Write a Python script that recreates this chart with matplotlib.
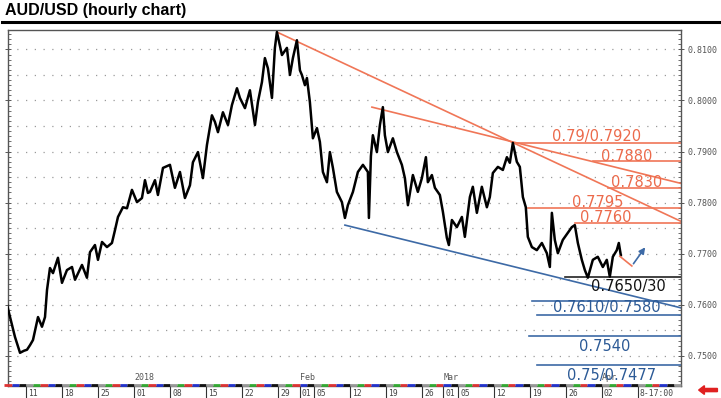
import matplotlib.pyplot as plt
from matplotlib.lines import Line2D
from matplotlib.patches import FancyArrow
import matplotlib.transforms as mtransforms
from matplotlib.ticker import MultipleLocator

# x axis = trading days counted from Mon 11 Dec 2017
days = [-2.64, -1.53, -0.83, -0.28, 0.14, 0.56, 0.97, 1.67, 2.22, 2.64, 2.92, 3.33, 3.75, 4.44,
        5.0, 5.69, 6.39, 6.81, 7.78, 8.47, 8.89, 9.58, 10.0, 10.56, 11.25, 11.94, 12.36, 12.78,
        13.47, 14.03, 14.72, 15.42, 16.11, 16.53, 16.94, 17.22, 17.92, 18.33, 19.03, 20.0, 20.69,
        21.39, 22.08, 22.78, 23.19, 23.89, 24.58, 25.14, 25.83, 26.25, 26.67, 27.36, 28.06, 28.61,
        29.31, 29.72, 30.42, 31.11, 31.81, 32.22, 32.78, 33.19, 33.61, 34.17, 34.58, 34.86, 35.56,
        36.25, 36.67, 37.08, 37.64, 38.06, 38.33, 38.75, 39.03, 39.44, 39.86, 40.42, 40.83, 41.25,
        41.81, 42.22, 42.64, 43.19, 43.89, 44.31, 44.72, 45.42, 46.11, 46.81, 47.5, 47.64, 47.92,
        48.19, 48.75, 49.17, 49.58, 49.86, 50.28, 50.97, 51.53, 52.22, 52.64, 53.06, 53.75, 54.44,
        55.0, 55.56, 55.83, 56.39, 56.81, 57.5, 57.92, 58.47, 58.75, 59.17, 59.86, 60.56, 60.97,
        61.67, 62.08, 62.64, 63.33, 64.03, 64.44, 64.86, 65.56, 66.25, 66.81, 67.22, 67.64, 68.19,
        68.61, 69.03, 69.44, 69.72, 70.28, 70.97, 71.67, 72.36, 72.78, 73.06, 73.47, 73.89, 74.58,
        75.28, 75.83, 76.25, 76.67, 77.22, 77.64, 78.06, 78.75, 79.44, 80.14, 80.69, 81.11, 81.53,
        82.08, 82.36, 82.64]
price = [0.7600, 0.7537, 0.7506, 0.7510, 0.7512, 0.7521, 0.7531, 0.7576, 0.7557, 0.7576, 0.7629,
         0.7672, 0.7662, 0.7692, 0.7643, 0.7668, 0.7674, 0.7649, 0.7678, 0.7653, 0.7703, 0.7717,
         0.7688, 0.7723, 0.7713, 0.7721, 0.7746, 0.7772, 0.7791, 0.7789, 0.7825, 0.7801, 0.7809,
         0.7844, 0.7819, 0.7821, 0.7844, 0.7815, 0.7868, 0.7874, 0.7829, 0.7860, 0.7809, 0.7834,
         0.7879, 0.7899, 0.7848, 0.7913, 0.7971, 0.7958, 0.7938, 0.7977, 0.7952, 0.7991, 0.8024,
         0.8005, 0.7985, 0.8020, 0.7952, 0.7997, 0.8036, 0.8083, 0.8063, 0.8005, 0.8103, 0.8134,
         0.8089, 0.8103, 0.8050, 0.8083, 0.8118, 0.8059, 0.8050, 0.8030, 0.8044, 0.7997, 0.7926,
         0.7946, 0.7919, 0.7860, 0.7840, 0.7899, 0.7868, 0.7821, 0.7801, 0.7770, 0.7795, 0.7821,
         0.7860, 0.7874, 0.7860, 0.7770, 0.7891, 0.7932, 0.7899, 0.7952, 0.7987, 0.7932, 0.7899,
         0.7926, 0.7899, 0.7874, 0.7848, 0.7795, 0.7854, 0.7821, 0.7848, 0.7889, 0.7840, 0.7854,
         0.7829, 0.7815, 0.7782, 0.7731, 0.7717, 0.7766, 0.7752, 0.7772, 0.7733, 0.7811, 0.7831,
         0.7780, 0.7831, 0.7791, 0.7811, 0.7858, 0.7870, 0.7864, 0.7889, 0.7878, 0.7917, 0.7880,
         0.7870, 0.7811, 0.7791, 0.7733, 0.7713, 0.7707, 0.7721, 0.7701, 0.7674, 0.7780, 0.7727,
         0.7701, 0.7727, 0.7741, 0.7752, 0.7756, 0.7721, 0.7688, 0.7668, 0.7653, 0.7688, 0.7694,
         0.7674, 0.7688, 0.7655, 0.7694, 0.7707, 0.7721, 0.7697]

tick_pos = [0, 5, 10, 15, 20, 25, 30, 35, 38, 40, 45, 50, 55, 58, 60, 65, 70, 75, 80, 85]
tick_lab = ['11', '18', '25', '01', '08', '15', '22', '29', '01', '05', '12', '19', '26',
            '01', '05', '12', '19', '26', '02', '8-17:00']
month_pos = [15, 38, 58, 80]
month_lab = ['2018', 'Feb', 'Mar', 'Apr']

# resistance levels (start day, level) and their labels
res_start = [67.64, 78.75, 80.83, 69.72, 76.25]
res_level = [0.7917, 0.7881, 0.7829, 0.7790, 0.7760]
res_text = ['0.79/0.7920', '0.7880', '0.7830', '0.7795', '0.7760']
# support levels
sup_start = [74.86, 70.28, 70.97, 69.86, 70.97]
sup_level = [0.7655, 0.7608, 0.7580, 0.7538, 0.7482]
sup_text = ['0.7650/30', '0.7610/0.7580', '0.7540', '0.75/0.7477']

# trend lines
down1_x, down1_y = [34.86, 90.9], [0.8134, 0.7764]
down2_x, down2_y = [48.06, 90.9], [0.7987, 0.7838]
up_x, up_y = [44.31, 91.0], [0.7756, 0.7594]
proj_x = [82.5, 84.17, 86.25]
proj_y = [0.7695, 0.7676, 0.7717]

ORANGE = '#f07657'
BLUE = '#3d6aa6'
XMAX = 91.0

fig = plt.figure(figsize=(7.21, 3.98), dpi=100)
ax = fig.add_axes([8 / 721, 1 - 386 / 398, 673 / 721, 356 / 398])
ax.set_xlim(-2.5, XMAX)
ax.set_ylim(0.7441, 0.8138)

# dotted grid
for lv in [0.750 + 0.005 * i for i in range(13)]:
    ax.axhline(lv, color='#9a9a9a', lw=0.9, ls=(0, (1, 6)), zorder=0)

ax.plot(days, price, color='black', lw=1.8, zorder=3)

ax.plot(down1_x, down1_y, color=ORANGE, lw=1.2, zorder=2)
ax.plot(down2_x, down2_y, color=ORANGE, lw=1.2, zorder=2)
ax.plot(up_x, up_y, color=BLUE, lw=1.2, zorder=2)
for s, lv in zip(res_start, res_level):
    ax.plot([s, XMAX], [lv, lv], color=ORANGE, lw=1.2, zorder=2)
for i, (s, lv) in enumerate(zip(sup_start, sup_level)):
    ax.plot([s, XMAX], [lv, lv], color='#222222' if i == 0 else BLUE, lw=1.2, zorder=2)

ax.plot(proj_x[:2], proj_y[:2], color=ORANGE, lw=1.2, zorder=3)
ax.annotate('', xy=(proj_x[2], proj_y[2]), xytext=(proj_x[1], proj_y[1]),
            arrowprops=dict(arrowstyle='-|>', color=BLUE, lw=1.2, mutation_scale=9), zorder=3)

lab_font = dict(family='DejaVu Sans', fontsize=10.5, ha='center', va='center', zorder=4)
res_pos = [(79.3, 0.7929), (83.5, 0.7891), (84.9, 0.7840), (79.45, 0.7800), (80.6, 0.7770)]
for (x, y), t in zip(res_pos, res_text):
    ax.text(x, y, t, color='#ec6a4b', **lab_font)
sup_pos = [(83.75, 0.7635), (80.7, 0.7594), (80.4, 0.7518), (81.4, 0.7462)]
for i, ((x, y), t) in enumerate(zip(sup_pos, sup_text)):
    ax.text(x, y, t, color='#111111' if i == 0 else '#2c5a96', **lab_font)

# axes styling
for sp in ax.spines.values():
    sp.set_color('#555555')
    sp.set_linewidth(1.0)
ax.yaxis.tick_right()
ax.set_yticks([0.75 + 0.01 * i for i in range(7)])
ax.set_yticklabels(['%.4f' % (0.75 + 0.01 * i) for i in range(7)],
                   fontsize=6, color='#555555', family='DejaVu Sans Mono')
ax.yaxis.set_minor_locator(MultipleLocator(0.001))
ax.tick_params(axis='y', which='major', length=4, width=0.7, color='#555555',
               direction='inout', left=True, pad=3)
ax.tick_params(axis='y', which='minor', length=2, width=0.6, color='#555555',
               direction='in', left=True, right=True)

ax.set_xticks(tick_pos)
ax.set_xticklabels([])
ax.tick_params(axis='x', length=9, width=0.8, color='#333333', direction='out')
trans = mtransforms.blended_transform_factory(ax.transData, ax.transAxes)
for p, t in zip(tick_pos, tick_lab):
    ax.text(p + 0.3, -0.008, t, transform=trans, fontsize=5.8, color='#444444',
            family='DejaVu Sans Mono', ha='left', va='top')
for p, t in zip(month_pos, month_lab):
    ax.text(p, 0.012, t, transform=trans, fontsize=6, color='#555555',
            family='DejaVu Sans Mono', ha='left', va='bottom')

# colored day strip along the bottom
strip_cols = ['#999999', '#33aa33', '#dd3333', '#2233cc', '#111111']
for d in range(-3, 91):
    ax.plot([d, d + 1], [0.004, 0.004], transform=trans, color=strip_cols[d % 5],
            lw=2.0, solid_capstyle='butt', clip_on=False, zorder=5)

# title and rule
fig.text(5 / 721, 1 - 11 / 398, 'AUD/USD (hourly chart)', fontsize=11.5, fontweight='bold',
         family='Liberation Sans', va='center', ha='left')
fig.add_artist(Line2D([0.003, 1.0], [1 - 21.5 / 398] * 2, color='black', lw=2.2))

fig.add_artist(FancyArrow(0.995, 0.02, -0.018, 0, width=0.008, head_width=0.022,
                          head_length=0.008, color='#e02020', transform=fig.transFigure))

fig.savefig('out.png', dpi=100)
